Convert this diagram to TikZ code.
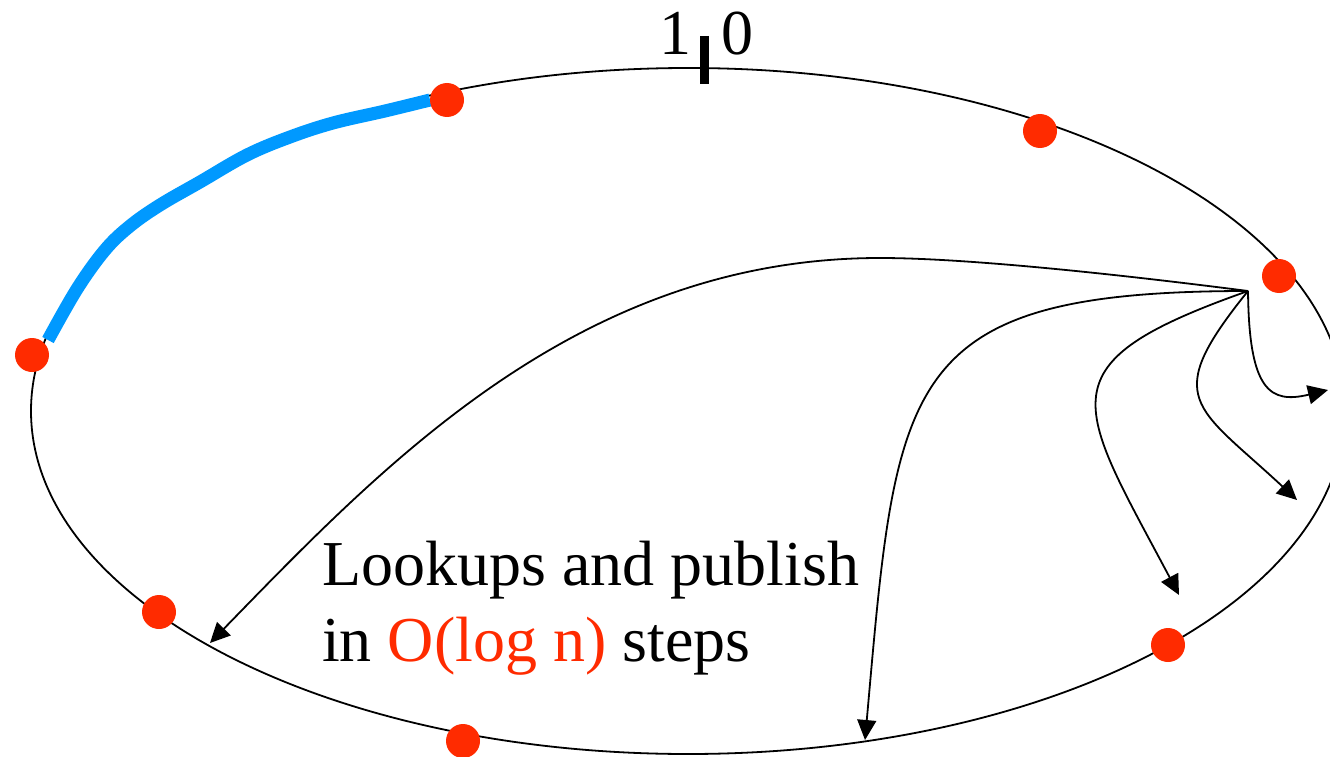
\documentclass[tikz,border=0pt]{standalone}
\usepackage{fontspec}
\setmainfont{Liberation Serif}
\usetikzlibrary{arrows.meta}
\definecolor{dotred}{RGB}{255,43,0}
\definecolor{ringblue}{RGB}{0,153,255}
\begin{document}
\begin{tikzpicture}[x=1pt,y=-1pt,
  ring/.style={draw=black,line width=1.8pt},
  arr/.style={draw=black,line width=1.8pt,-{Triangle[length=20pt,width=19pt]}},
  peer/.style={circle,fill=dotred,inner sep=0pt,minimum size=34pt},
  lbl/.style={font=\fontsize{64}{77}\selectfont,inner sep=0pt}]
\useasboundingbox (0,0) rectangle (1330,757);
\clip (0,0) rectangle (1330,757);
% identifier ring
\draw[ring] (688,411) ellipse [x radius=657pt, y radius=343pt];
% responsibility arc
\draw[ringblue, line width=13pt] plot[smooth, tension=0.6] coordinates {(48,340) (77,289) (105,250) (130,226) (160,205) (200,182) (247,155) (290,137) (333,123) (385,111) (430,100)};
% zero mark
\draw[line width=9pt] (704,36) -- (704,84);
\node[lbl,anchor=base east] (one) at (692,55) {1};
\node[lbl,anchor=base west] (zero) at (721,55) {0};
% finger connectors
\coordinate (src) at (1248,291);
\coordinate (m1) at (880,258);
\coordinate (t1) at (210,643);
\coordinate (t2) at (865,740);
\coordinate (t3) at (1179,595);
\coordinate (t4) at (1297,500);
\coordinate (t5) at (1328,390);
\draw[arr] (src) .. controls (1100,272) and (960,258) .. (m1) .. controls (580,258) and (385,463) .. (t1);
\draw[arr] (src) .. controls (898,291) and (897,380) .. (t2);
\draw[arr] (src) .. controls (1041,364) and (1076,401) .. (t3);
\draw[arr] (src) .. controls (1160,400) and (1195,405) .. (t4);
\draw[arr] (src) .. controls (1249,391) and (1270,404) .. (t5);
% peers
\node[peer] (p1) at (447,100) {};
\node[peer] (p2) at (1040,131) {};
\node[peer] (p3) at (1279,276) {};
\node[peer] (p4) at (32,355) {};
\node[peer] (p5) at (159,612) {};
\node[peer] (p6) at (463,741) {};
\node[peer] (p7) at (1168,645) {};
% caption
\node[lbl,anchor=base west] (cap1) at (322,585) {Lookups and publish};
\node[lbl,anchor=base west] (cap2) at (322,661) {in \textcolor{dotred}{O(log n)} steps};
\end{tikzpicture}
\end{document}
